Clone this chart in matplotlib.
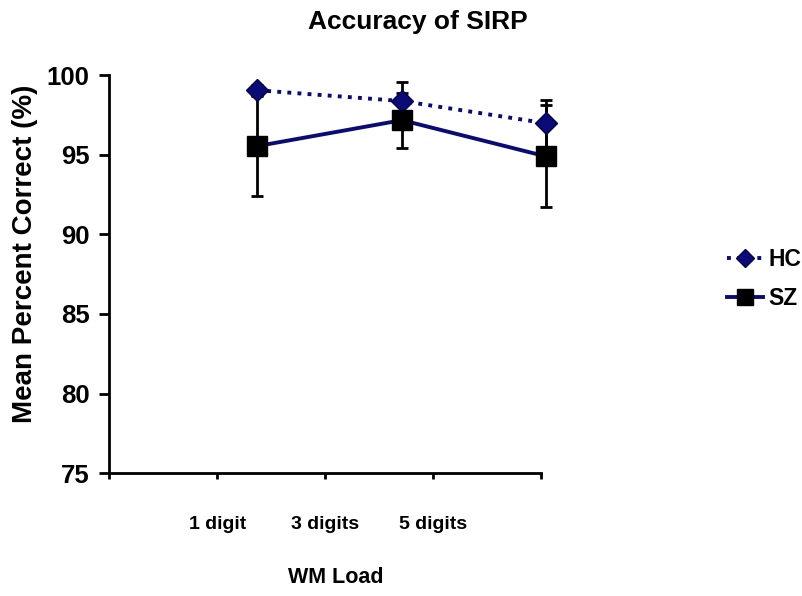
import matplotlib
matplotlib.use("Agg")
import matplotlib.pyplot as plt

plt.rcParams['font.family'] = ['Liberation Sans', 'DejaVu Sans']
plt.rcParams['font.weight'] = 'bold'

# categories and where the markers sit on the category axis
categories = ['1 digit', '3 digits', '5 digits']
cat_ticks = [1, 2, 3]
x_pos = [1.37, 2.71, 4.04]

# mean percent correct and error bars
hc_mean = [99.05, 98.37, 96.98]
hc_err = [0.3, 1.17, 1.47]
sz_mean = [95.54, 97.17, 94.9]
sz_err = [3.12, 1.73, 3.2]

navy = '#0b0b78'

fig = plt.figure(figsize=(8.02, 5.96), dpi=100)
ax = fig.add_axes([0.136, 0.206, 0.539, 0.668])

# lines
ax.plot(x_pos, hc_mean, color=navy, lw=2.8, ls=(0, (1, 1.6)), zorder=2, clip_on=False)
ax.plot(x_pos, sz_mean, color=navy, lw=2.8, zorder=2, clip_on=False)

# error bars
for m, e in [(hc_mean, hc_err), (sz_mean, sz_err)]:
    eb = ax.errorbar(x_pos, m, yerr=e, fmt='none', ecolor='black', elinewidth=2,
                     capsize=4, capthick=2, zorder=3)
    for art in eb.lines[1] + eb.lines[2]:
        art.set_clip_on(False)

# markers
ax.plot(x_pos, hc_mean, ls='none', marker='D', ms=11, color=navy, mec='#05054a',
        zorder=4, clip_on=False)
ax.plot(x_pos, sz_mean, ls='none', marker='s', ms=14, color='black', zorder=5,
        clip_on=False)

# legend handles
h1, = ax.plot([], [], color=navy, lw=2.8, ls=(0, (1, 1.6)), marker='D', ms=9,
              mfc=navy, mec='#05054a')
h2, = ax.plot([], [], color=navy, lw=2.8, marker='s', ms=11, mfc='black', mec='black')
fig.legend([h1, h2], ['HC', 'SZ'], loc='center left', bbox_to_anchor=(0.906, 0.532),
           frameon=False, fontsize=16.5, handlelength=1.6, handletextpad=0.22,
           labelspacing=0.72, borderaxespad=0, borderpad=0)

ax.set_xlim(0, 4)
ax.set_ylim(75, 100)
ax.set_yticks([75, 80, 85, 90, 95, 100])
ax.set_xticks([0, 1, 2, 3, 4])
ax.set_xticklabels([''] + categories + [''])

for s in ['top', 'right']:
    ax.spines[s].set_visible(False)
for s in ['left', 'bottom']:
    ax.spines[s].set_linewidth(2)

ax.tick_params(axis='y', direction='out', length=7, width=2, labelsize=18.5, pad=7)
ax.tick_params(axis='x', direction='out', length=4, width=2, labelsize=14, pad=27)

ax.set_title('Accuracy of SIRP', fontsize=19, fontweight='bold', pad=33, x=0.715)
ax.set_xlabel('WM Load', fontsize=15.5, fontweight='bold', labelpad=22)
ax.xaxis.set_label_coords(0.525, -0.235)
ax.set_ylabel('Mean Percent Correct (%)', fontsize=20, fontweight='bold')
ax.yaxis.set_label_coords(-0.164, 0.55)

fig.savefig('out.png', dpi=100)
